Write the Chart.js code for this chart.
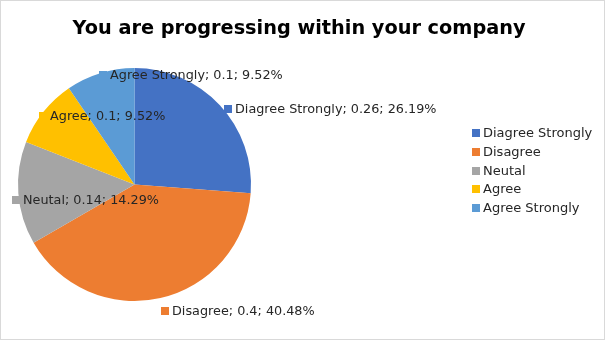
<!DOCTYPE html>
<html><head><meta charset="utf-8">
<script src="https://cdn.jsdelivr.net/npm/chart.js@4"></script>
<style>html,body{margin:0;padding:0;background:#fff}#wrap{width:605px;height:340px;position:relative}</style>
</head><body><div id="wrap"><canvas id="c" width="605" height="340"></canvas></div>
<script>
const categories = ["Diagree Strongly", "Disagree", "Neutal", "Agree", "Agree Strongly"];
const values = [0.26, 0.4, 0.14, 0.1, 0.1];
const percents = [26.19, 40.48, 14.29, 9.52, 9.52];
const chartTitle = "You are progressing within your company";

const colors = ['#4472C4', '#ED7D31', '#A5A5A5', '#FFC000', '#5B9BD5'];
// label anchor (marker left edge, vertical centre) in units of radius from pie centre
const labelAnchors = [[0.768, -0.652], [0.227, 1.086], [-1.052, 0.133], [-0.82, -0.592], [-0.305, -0.944]];
const FONT = '"DejaVu Sans", sans-serif';

const decor = {
  id: 'decor',
  afterDraw(chart) {
    const ctx = chart.ctx;
    const meta = chart.getDatasetMeta(0);
    const arc = meta.data[0];
    const cx = arc.x, cy = arc.y, r = arc.outerRadius;
    ctx.save();
    // frame
    ctx.strokeStyle = '#D9D9D9'; ctx.lineWidth = 1;
    ctx.strokeRect(0.5, 0.5, chart.width - 1, chart.height - 1);
    // title
    ctx.fillStyle = '#000';
    ctx.font = 'bold 19.3px ' + FONT;
    ctx.textAlign = 'center'; ctx.textBaseline = 'middle';
    ctx.fillText(chartTitle, 299, 29);
    // data labels
    ctx.font = '12.8px ' + FONT;
    ctx.textAlign = 'left';
    categories.forEach((c, i) => {
      const x = cx + labelAnchors[i][0] * r, y = cy + labelAnchors[i][1] * r;
      ctx.fillStyle = colors[i];
      ctx.fillRect(Math.round(x), Math.round(y) - 4, 8, 8);
      ctx.fillStyle = '#262626';
      ctx.fillText(c + '; ' + values[i] + '; ' + percents[i].toFixed(2) + '%', Math.round(x) + 11, Math.round(y) + 0.5);
    });
    // legend
    ctx.font = '13px ' + FONT;
    categories.forEach((c, i) => {
      const y = 133 + i * 18.75;
      ctx.fillStyle = colors[i];
      ctx.fillRect(472, Math.round(y) - 4, 8, 8);
      ctx.fillStyle = '#262626';
      ctx.fillText(c, 483, Math.round(y) + 0.5);
    });
    ctx.restore();
  }
};

new Chart(document.getElementById('c'), {
  type: 'pie',
  data: {
    labels: categories,
    datasets: [{ data: percents, backgroundColor: colors, borderWidth: 0 }]
  },
  options: {
    responsive: false,
    animation: false,
    layout: { padding: { top: 68, bottom: 39, left: 18, right: 354 } },
    plugins: { legend: { display: false }, tooltip: { enabled: false }, title: { display: false } }
  },
  plugins: [decor]
});
</script></body></html>
